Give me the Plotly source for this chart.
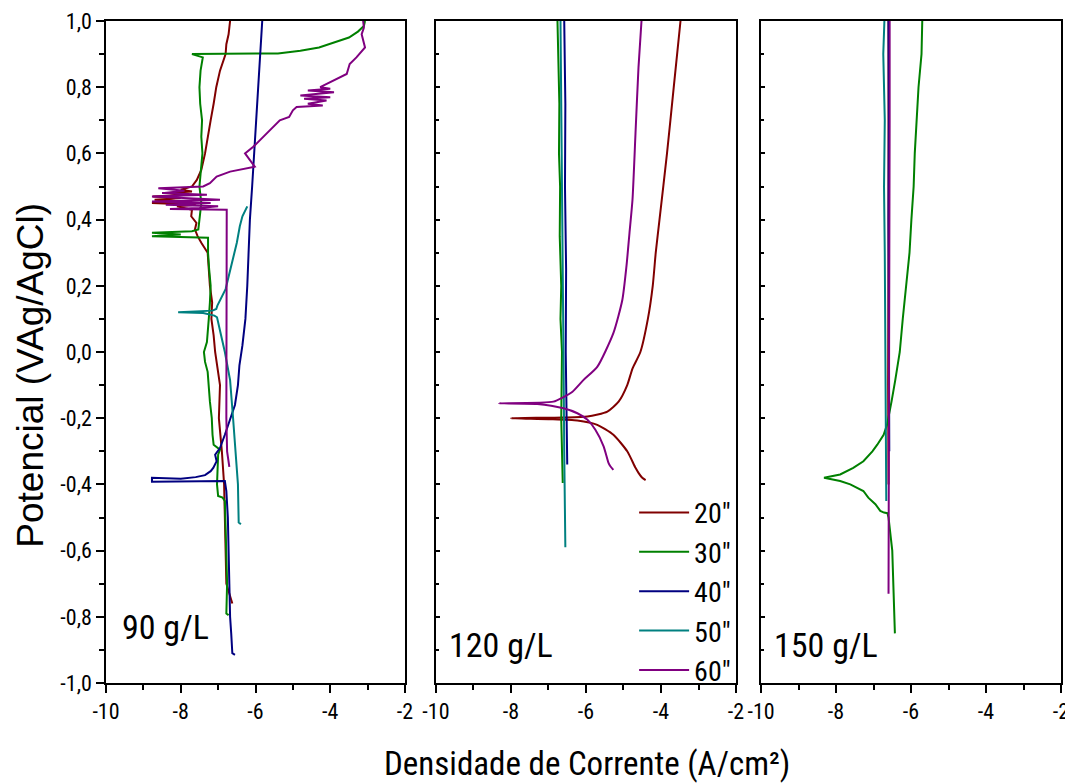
import plotly.graph_objects as go

# tick labels
x_ticks = [-10, -8, -6, -4, -2]
x_tick_text = ["-10", "-8", "-6", "-4", "-2"]
y_ticks = [-1.0, -0.8, -0.6, -0.4, -0.2, 0.0, 0.2, 0.4, 0.6, 0.8, 1.0]
y_tick_text = ["-1,0", "-0,8", "-0,6", "-0,4", "-0,2", "0,0", "0,2", "0,4", "0,6", "0,8", "1,0"]

series_names = ['20"', '30"', '40"', '50"', '60"']
series_colors = ["#800000", "#008000", "#000080", "#008080", "#800080"]
panel_labels = ["90 g/L", "120 g/L", "150 g/L"]

# ---- 90 g/L ----
p90_20_x = [-6.62, -6.78, -6.80, -6.82, -6.84, -6.90, -6.98, -6.95, -7.02, -7.08, -7.12, -7.18, -7.16, -7.22,
            -7.25, -7.28, -7.45, -7.55, -7.62, -7.58, -7.72, -7.70, -8.10, -7.60, -8.77, -7.90, -8.70, -8.00,
            -8.75, -7.80, -8.30, -7.70, -8.00, -7.70, -7.57, -7.45, -7.35, -7.28, -7.20, -7.12, -7.05, -6.95,
            -6.80, -6.78, -6.72, -6.68]
p90_20_y = [-0.76, -0.70, -0.60, -0.50, -0.40, -0.30, -0.20, -0.10, -0.05, 0.00, 0.05, 0.10, 0.15, 0.20,
            0.25, 0.30, 0.33, 0.35, 0.37, 0.39, 0.41, 0.43, 0.44, 0.445, 0.45, 0.455, 0.46, 0.465,
            0.47, 0.475, 0.48, 0.485, 0.49, 0.50, 0.52, 0.55, 0.60, 0.65, 0.70, 0.75, 0.80, 0.85,
            0.90, 0.93, 0.96, 1.00]

p90_30_x = [-6.72, -6.78, -6.76, -6.78, -6.80, -6.82, -6.88, -7.00, -7.03, -7.02, -7.00, -6.95, -7.05, -7.12,
            -7.15, -7.17, -7.22, -7.25, -7.28, -7.35, -7.38, -7.30, -7.27, -7.25, -7.22, -7.20, -7.24, -7.27,
            -7.27, -8.77, -8.00, -8.77, -7.70, -7.53, -7.50, -7.45, -7.50, -7.45, -7.42, -7.45, -7.43, -7.48,
            -7.50, -7.47, -7.41, -7.70, -5.40, -4.80, -4.30, -3.90, -3.50, -3.26, -3.10, -3.07]
p90_30_y = [-0.795, -0.79, -0.70, -0.60, -0.50, -0.45, -0.44, -0.435, -0.40, -0.35, -0.31, -0.295, -0.285, -0.28,
            -0.25, -0.20, -0.15, -0.10, -0.06, -0.03, 0.00, 0.03, 0.06, 0.10, 0.15, 0.20, 0.25, 0.30,
            0.345, 0.35, 0.355, 0.36, 0.365, 0.37, 0.40, 0.45, 0.50, 0.55, 0.60, 0.65, 0.70, 0.75,
            0.80, 0.85, 0.89, 0.90, 0.902, 0.91, 0.92, 0.935, 0.95, 0.968, 0.985, 1.00]

p90_40_x = [-6.55, -6.62, -6.65, -6.68, -6.70, -6.72, -6.74, -6.78, -6.82, -8.77, -8.77, -8.00, -7.60, -7.35,
            -7.20, -7.13, -7.04, -7.08, -6.95, -6.82, -6.70, -6.63, -6.55, -6.47, -6.43, -6.35, -6.27, -6.22,
            -6.19, -6.15, -6.09, -6.04, -5.99, -5.93, -5.87, -5.82]
p90_40_y = [-0.915, -0.91, -0.85, -0.80, -0.70, -0.60, -0.50, -0.42, -0.39, -0.392, -0.38, -0.383, -0.378, -0.372,
            -0.36, -0.35, -0.33, -0.31, -0.29, -0.25, -0.21, -0.19, -0.16, -0.10, -0.04, 0.02, 0.10, 0.20,
            0.30, 0.40, 0.50, 0.60, 0.70, 0.80, 0.90, 1.00]

p90_50_x = [-6.39, -6.45, -6.47, -6.53, -6.60, -6.68, -6.75, -6.82, -6.92, -7.03, -7.10, -7.40, -8.07, -7.60,
            -7.15, -7.05, -7.02, -6.80, -6.62, -6.50, -6.42, -6.35, -6.22]
p90_50_y = [-0.52, -0.515, -0.40, -0.30, -0.20, -0.085, -0.04, 0.00, 0.05, 0.105, 0.11, 0.118, 0.12, 0.122,
            0.125, 0.13, 0.14, 0.19, 0.27, 0.33, 0.38, 0.41, 0.44]

p90_60_x = [-6.70, -6.72, -6.76, -6.78, -6.78, -6.78, -6.78, -6.77, -6.77, -6.77, -6.77, -8.29, -7.50, -7.00,
            -8.40, -7.20, -8.77, -6.95, -8.00, -8.77, -7.30, -8.50, -7.90, -8.60, -7.40, -7.22, -7.04, -6.90,
            -6.68, -6.02, -6.28, -6.06, -5.70, -5.35, -5.10, -5.00, -4.90, -4.20, -4.60, -4.10, -4.70, -4.00,
            -4.80, -3.90, -4.60, -4.00, -4.27, -3.92, -3.56, -3.48, -3.30, -3.07, -3.16, -3.10, -3.12]
p90_60_y = [-0.347, -0.33, -0.30, -0.20, -0.10, 0.00, 0.10, 0.20, 0.30, 0.40, 0.43, 0.432, 0.435, 0.44,
            0.445, 0.45, 0.455, 0.46, 0.465, 0.47, 0.475, 0.48, 0.487, 0.495, 0.50, 0.51, 0.53, 0.535,
            0.545, 0.56, 0.60, 0.62, 0.66, 0.70, 0.71, 0.73, 0.74, 0.745, 0.75, 0.76, 0.765, 0.77,
            0.775, 0.785, 0.79, 0.795, 0.80, 0.82, 0.84, 0.87, 0.89, 0.92, 0.96, 0.98, 1.00]

# ---- 120 g/L ----
p120_20_x = [-4.41, -4.50, -4.60, -4.68, -4.90, -5.27, -5.70, -6.23, -7.00, -8.00, -6.60, -5.96, -5.43, -5.13,
             -4.90, -4.76, -4.55, -4.35, -4.22, -4.14, -4.04, -3.84, -3.66, -3.48]
p120_20_y = [-0.387, -0.38, -0.365, -0.35, -0.30, -0.25, -0.22, -0.207, -0.203, -0.20, -0.198, -0.195, -0.18, -0.15,
             -0.10, -0.05, 0.00, 0.10, 0.20, 0.30, 0.40, 0.60, 0.80, 1.00]

p120_30_x = [-6.62, -6.66, -6.64, -6.68, -6.66, -6.70, -6.69, -6.72, -6.71, -6.74, -6.76]
p120_30_y = [-0.396, -0.20, 0.00, 0.10, 0.20, 0.35, 0.50, 0.60, 0.75, 0.90, 1.00]

p120_40_x = [-6.50, -6.52, -6.54, -6.53, -6.56, -6.55, -6.58]
p120_40_y = [-0.34, -0.20, 0.00, 0.25, 0.50, 0.75, 1.00]

p120_50_x = [-6.55, -6.57, -6.58, -6.60, -6.62, -6.64, -6.66, -6.68]
p120_50_y = [-0.59, -0.45, -0.30, 0.00, 0.25, 0.50, 0.75, 1.00]

p120_60_x = [-5.27, -5.35, -5.40, -5.53, -5.75, -5.96, -6.23, -6.60, -7.30, -8.32, -6.87, -6.60, -6.36, -6.07,
             -5.70, -5.27, -5.03, -4.92, -4.84, -4.76, -4.68, -4.60, -4.52]
p120_60_y = [-0.356, -0.345, -0.335, -0.285, -0.235, -0.205, -0.185, -0.17, -0.157, -0.155, -0.15, -0.136, -0.12, -0.085,
             -0.045, 0.057, 0.158, 0.26, 0.36, 0.46, 0.66, 0.86, 1.00]

# ---- 150 g/L ----
p150_20_x = [-6.60, -6.61, -6.60, -6.61, -6.60]
p150_20_y = [-0.40, -0.10, 0.30, 0.70, 1.00]

p150_30_x = [-6.43, -6.44, -6.47, -6.50, -6.60, -6.63, -6.72, -6.82, -6.95, -7.14, -7.27, -7.62, -7.89, -8.32,
             -7.89, -7.54, -7.27, -7.03, -6.90, -6.73, -6.64, -6.60, -6.52, -6.42, -6.30, -6.22, -6.12, -6.04,
             -5.99, -5.93, -5.90, -5.86, -5.80, -5.72, -5.70]
p150_30_y = [-0.85, -0.80, -0.70, -0.60, -0.50, -0.487, -0.485, -0.48, -0.46, -0.44, -0.42, -0.40, -0.39, -0.38,
             -0.37, -0.35, -0.33, -0.30, -0.28, -0.25, -0.22, -0.20, -0.15, -0.085, 0.00, 0.10, 0.20, 0.30,
             0.40, 0.50, 0.60, 0.70, 0.80, 0.90, 1.00]

p150_40_x = [-6.58, -6.59, -6.60, -6.59, -6.60]
p150_40_y = [-0.30, 0.00, 0.40, 0.70, 1.00]

p150_50_x = [-6.66, -6.67, -6.68, -6.70, -6.70, -6.72, -6.70, -6.74, -6.71]
p150_50_y = [-0.45, -0.20, -0.10, 0.10, 0.30, 0.50, 0.70, 0.90, 1.00]

p150_60_x = [-6.60, -6.59, -6.58, -6.58, -6.57, -6.57]
p150_60_y = [-0.73, -0.40, -0.10, 0.30, 0.70, 1.00]

panels = [
    [(p90_20_x, p90_20_y), (p90_30_x, p90_30_y), (p90_40_x, p90_40_y), (p90_50_x, p90_50_y), (p90_60_x, p90_60_y)],
    [(p120_20_x, p120_20_y), (p120_30_x, p120_30_y), (p120_40_x, p120_40_y), (p120_50_x, p120_50_y), (p120_60_x, p120_60_y)],
    [(p150_20_x, p150_20_y), (p150_30_x, p150_30_y), (p150_40_x, p150_40_y), (p150_50_x, p150_50_y), (p150_60_x, p150_60_y)],
]

narrow = "Liberation Sans Narrow, Arial Narrow, Roboto Condensed, Liberation Sans, sans-serif"
domains = [[0.0, 0.3131], [0.3455, 0.6597], [0.6859, 1.0]]

fig = go.Figure()
for p, curves in enumerate(panels):
    sfx = "" if p == 0 else str(p + 1)
    for i, (xs, ys) in enumerate(curves):
        smooth = p == 1 and i in (0, 4)
        fig.add_trace(go.Scatter(
            x=xs, y=ys, mode="lines", name=series_names[i],
            line=dict(color=series_colors[i], width=2,
                      shape="spline" if smooth else "linear", smoothing=0.6),
            xaxis="x" + sfx, yaxis="y" + sfx,
            showlegend=(p == 1),
        ))

axis_common = dict(showline=True, linecolor="black", linewidth=1.5, mirror=True,
                   showgrid=False, zeroline=False, automargin=False)
for p in range(3):
    sfx = "" if p == 0 else str(p + 1)
    fig.layout["xaxis" + sfx] = dict(
        axis_common, domain=domains[p], range=[-10, -2], anchor="y" + sfx,
        tickmode="array", tickvals=x_ticks, ticktext=x_tick_text,
        ticks="outside", ticklen=8, tickwidth=1.5, tickcolor="black",
        minor=dict(tickmode="linear", tick0=-10, dtick=1, ticks="outside", ticklen=5, tickcolor="black"),
        tickfont=dict(family=narrow, size=22, color="black"),
    )
    fig.layout["yaxis" + sfx] = dict(
        axis_common, domain=[0, 1], range=[-1, 1], anchor="x" + sfx,
        tickmode="array", tickvals=y_ticks, ticktext=y_tick_text,
        ticks="outside" if p == 0 else "inside", ticklen=8 if p == 0 else 4,
        tickwidth=1.5, tickcolor="black",
        minor=dict(tickmode="linear", tick0=-1, dtick=0.1,
                   ticks="outside" if p == 0 else "inside", ticklen=5 if p == 0 else 3, tickcolor="black"),
        showticklabels=(p == 0),
        tickfont=dict(family=narrow, size=22, color="black"),
    )

label_pos = [(0.015, 0.084), (0.357, 0.058), (0.697, 0.058)]
for (lx, ly), txt in zip(label_pos, panel_labels):
    fig.add_annotation(x=lx, y=ly, xref="paper", yref="paper", text=txt, showarrow=False,
                       xanchor="left", yanchor="middle", font=dict(family=narrow, size=34, color="black"))

fig.add_annotation(x=0.504, y=-0.122, xref="paper", yref="paper", text="Densidade de Corrente (A/cm²)",
                   showarrow=False, xanchor="center", yanchor="middle",
                   font=dict(family=narrow, size=33, color="black"))
fig.add_annotation(x=-0.079, y=0.465, xref="paper", yref="paper", text="Potencial (VAg/AgCl)",
                   showarrow=False, textangle=-90, xanchor="center", yanchor="middle",
                   font=dict(family="Liberation Sans, Arial, sans-serif", size=37, color="black"))

# page body adds an 8px offset, so the figure is shrunk and shifted to compensate
fig.update_layout(
    width=1065, height=775,
    margin=dict(l=98, r=12, t=13, b=100, autoexpand=False),
    paper_bgcolor="white", plot_bgcolor="white",
    legend=dict(x=0.553, y=0.295, xanchor="left", yanchor="top", bgcolor="rgba(0,0,0,0)",
                font=dict(family=narrow, size=28, color="black"), itemwidth=50, tracegroupgap=0),
)

fig.write_html("out.html")
